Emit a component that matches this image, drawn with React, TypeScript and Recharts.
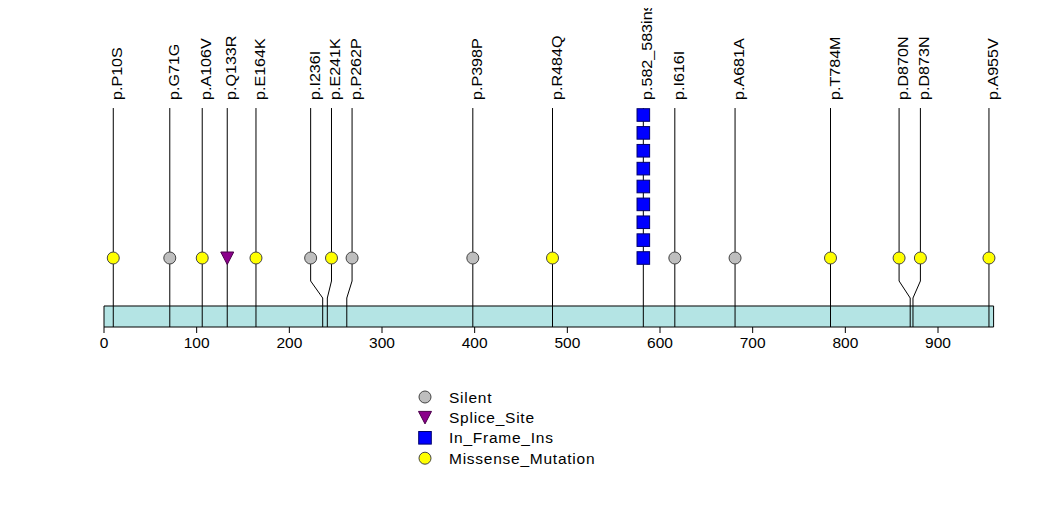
import React from 'react';
import { ComposedChart, XAxis, YAxis, Scatter, ReferenceArea } from 'recharts';

// ---------- data ----------
const PROTEIN_LENGTH = 960;
const axisTicks = [0, 100, 200, 300, 400, 500, 600, 700, 800, 900];

const mutationLabels = [
  'p.P10S', 'p.G71G', 'p.A106V', 'p.Q133R', 'p.E164K', 'p.I236I', 'p.E241K', 'p.P262P',
  'p.P398P', 'p.R484Q', 'p.582_583ins', 'p.I616I', 'p.A681A', 'p.T784M', 'p.D870N',
  'p.D873N', 'p.A955V',
];
const mutationPositions = [10, 71, 106, 133, 164, 236, 241, 262, 398, 484, 582, 616, 681, 784, 870, 873, 955];
// positions where the label / marker is drawn after de-overlapping
const labelPositions = [10, 71, 106, 133, 164, 223, 245.5, 267.7, 398, 484, 582, 616, 681, 784, 858, 881, 955];
const mutationTypes = [
  'Missense_Mutation', 'Silent', 'Missense_Mutation', 'Splice_Site', 'Missense_Mutation',
  'Silent', 'Missense_Mutation', 'Silent', 'Silent', 'Missense_Mutation', 'In_Frame_Ins',
  'Silent', 'Silent', 'Missense_Mutation', 'Missense_Mutation', 'Missense_Mutation',
  'Missense_Mutation',
];
const mutationCounts = [1, 1, 1, 1, 1, 1, 1, 1, 1, 1, 9, 1, 1, 1, 1, 1, 1];

const legendTypes = ['Silent', 'Splice_Site', 'In_Frame_Ins', 'Missense_Mutation'];
const typeColors: Record<string, string> = {
  Silent: '#BEBEBE',
  Splice_Site: '#8B008B',
  In_Frame_Ins: '#0000FF',
  Missense_Mutation: '#FFFF00',
};

// ---------- layout (y in "stack level" units above the bar bottom) ----------
const BAR_TOP = 1.175;
const BEND_LOW = 1.622;
const BEND_HIGH = 2.573;
const FIRST_LEVEL = 3.86;
const STEM_TOP = 12.25;
const LABEL_BASE = 12.7;
const Y_MAX = 18.294;
const FONT = '"Liberation Sans", Arial, Helvetica, sans-serif';

const stems = mutationPositions.map((p, i) => [
  { x: p, y: 0 },
  { x: p, y: BEND_LOW },
  { x: labelPositions[i], y: BEND_HIGH },
  { x: labelPositions[i], y: STEM_TOP },
]);

const markerData = mutationPositions.flatMap((p, i) =>
  Array.from({ length: mutationCounts[i] }, (_, k) => ({
    x: labelPositions[i],
    y: FIRST_LEVEL + k,
    type: mutationTypes[i],
  }))
);

const labelData = mutationLabels.map((l, i) => ({ x: labelPositions[i], y: LABEL_BASE, label: l }));

const drawMarker = (type: string, cx: number, cy: number, key?: string) => {
  const fill = typeColors[type];
  if (type === 'Splice_Site') {
    return (
      <polygon
        key={key}
        points={`${cx - 6.5},${cy - 6} ${cx + 6.5},${cy - 6} ${cx},${cy + 6.5}`}
        fill={fill}
        stroke="#4B004B"
        strokeWidth={1}
      />
    );
  }
  if (type === 'In_Frame_Ins') {
    return (
      <rect key={key} x={cx - 6.3} y={cy - 6.3} width={12.6} height={12.6} fill={fill} stroke="#00006B" strokeWidth={1} />
    );
  }
  return <circle key={key} cx={cx} cy={cy} r={6} fill={fill} stroke="#444" strokeWidth={1} />;
};

const MarkerShape = (props: any) => {
  const { cx, cy, payload } = props;
  return drawMarker(payload.type, cx, cy);
};

const LabelShape = (props: any) => {
  const { cx, cy, payload } = props;
  return (
    <text
      transform={`translate(${cx + 9},${cy}) rotate(-90) scale(1.15,1)`}
      fontSize={14}
      fontFamily={FONT}
      fill="#000"
      textAnchor="start"
    >
      {payload.label}
    </text>
  );
};

const Empty = () => <g />;

export default function App() {
  return (
    <div style={{ position: 'relative', width: 1047, height: 524, margin: '-8px 0 0 -8px', background: '#fff' }}>
      <ComposedChart
        width={1047}
        height={524}
        margin={{ top: 0, right: 53.4, bottom: 167, left: 104 }}
        style={{ overflow: 'visible' }}
      >
        <XAxis
          type="number"
          dataKey="x"
          domain={[0, PROTEIN_LENGTH]}
          ticks={axisTicks}
          interval={0}
          axisLine={false}
          tickLine={{ stroke: '#000' }}
          tickSize={6}
          tickMargin={4}
          height={30}
          tick={{ fill: '#000', fontSize: 15.5, fontFamily: FONT }}
        />
        <YAxis type="number" dataKey="y" domain={[0, Y_MAX]} hide width={0} />
        <ReferenceArea
          x1={0}
          x2={PROTEIN_LENGTH}
          y1={0}
          y2={BAR_TOP}
          fill="#B4E4E4"
          fillOpacity={1}
          stroke="#000"
          strokeWidth={1}
        />
        {stems.map((d, i) => (
          <Scatter
            key={`stem-${i}`}
            data={d}
            dataKey="y"
            line={{ stroke: '#000', strokeWidth: 1 }}
            shape={Empty}
            isAnimationActive={false}
          />
        ))}
        <Scatter data={markerData} dataKey="y" shape={MarkerShape} isAnimationActive={false} />
        <Scatter data={labelData} dataKey="y" shape={LabelShape} isAnimationActive={false} />
      </ComposedChart>
      <svg
        width={1047}
        height={524}
        style={{ position: 'absolute', left: 0, top: 0, pointerEvents: 'none' }}
      >
        {legendTypes.map((t, i) => {
          const y = 397 + i * 20.4;
          return (
            <g key={t}>
              {drawMarker(t, 425, y)}
              <text x={449} y={y} dominantBaseline="central" fontSize={15.5} fontFamily={FONT} fill="#000" letterSpacing={0.75}>
                {t}
              </text>
            </g>
          );
        })}
      </svg>
    </div>
  );
}
